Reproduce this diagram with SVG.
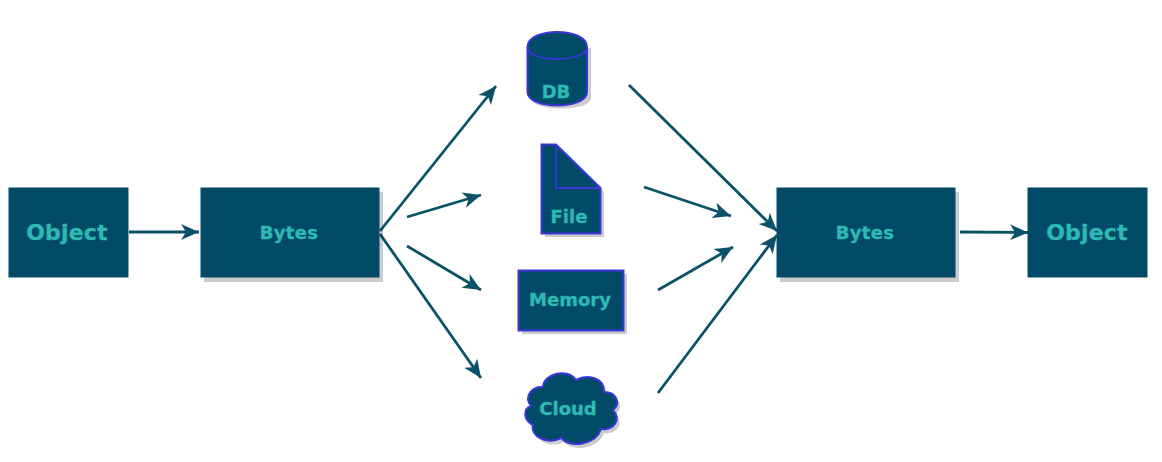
<svg xmlns="http://www.w3.org/2000/svg" width="1162" height="462" viewBox="0 0 1162 462">
<style>
.box{fill:#024b68}
.blue{fill:#024b68;stroke:#3a36d8;stroke-width:2}
.in{fill:none;stroke:#3a36d8;stroke-width:1.8}
.sh{fill:#000;opacity:.2}
text{font-family:"DejaVu Sans",sans-serif;font-weight:700;fill:#2dbab2;text-anchor:middle;stroke:#2dbab2;stroke-width:.3}
.c{fill:none;stroke:#0b5269;stroke-width:2.8;marker-end:url(#a)}
</style>
<defs>
<marker id="a" markerUnits="userSpaceOnUse" markerWidth="20" markerHeight="20" refX="18" refY="10" orient="auto"><path d="M0 2L18 10L0 18L5 10Z" fill="#0b5269"/></marker>
<path id="cloud" d="M543 387C544 373 568 368 576 380C589 373 605 379 604 392C617 392 621 404 613 410C622 420 613 431 601 429C596 444 572 449 561 438C547 445 530 436 533 425C523 420 523 409 531 406C523 396 533 386 543 387Z"/>
</defs>
<rect width="1162" height="462" fill="#fff"/>
<g id="connectors">
<path class="c" d="M129 232H199"/>
<path class="c" d="M380 231L496 86"/>
<path class="c" d="M407 217L481 195"/>
<path class="c" d="M407 246L481 290"/>
<path class="c" d="M380 234L481 378"/>
<path class="c" d="M629 85L777 231"/>
<path class="c" d="M644 187L731 216"/>
<path class="c" d="M658 290L733 247"/>
<path class="c" d="M658 393L777 235"/>
<path class="c" d="M960 232L1028 232.500"/>
</g>
<g id="object-left"><rect class="box" x="8.500" y="187.500" width="120" height="90"/><text x="67" y="240" font-size="22" letter-spacing=".2">Object</text></g>
<g id="bytes-left"><rect class="sh" x="204" y="192" width="179" height="90"/><rect class="box" x="200.500" y="187.500" width="179" height="90"/><text x="289" y="238.500" font-size="18" letter-spacing=".3">Bytes</text></g>
<g id="db"><path class="sh" d="M531 48V98C531 112 591 112 591 98V48Z"/><path class="blue" d="M527.500 47C527.500 27 587 27 587 47V92C587 110 527.500 110 527.500 92Z"/><path class="in" d="M527.500 47C527.500 63 587 63 587 47"/><text x="556" y="98" font-size="18">DB</text></g>
<g id="file"><path class="sh" d="M545 148H560L604 192V237H545Z"/><path class="blue" d="M541.500 144.500H556L600.500 188V233.500H541.500Z"/><path class="in" d="M556 144.500V188H600.500"/><text x="569" y="223" font-size="18">File</text></g>
<g id="memory"><rect class="sh" x="522" y="274" width="105" height="60"/><rect class="blue" x="518.500" y="270.500" width="105" height="60"/><text x="570" y="306" font-size="18">Memory</text></g>
<g id="cloud-node"><use href="#cloud" class="sh" x="3" y="4"/><use href="#cloud" class="blue"/><text x="568" y="415" font-size="18">Cloud</text></g>
<g id="bytes-right"><rect class="sh" x="780" y="192" width="179" height="90"/><rect class="box" x="776.500" y="187.500" width="179" height="90"/><text x="865" y="238.500" font-size="18" letter-spacing=".3">Bytes</text></g>
<g id="object-right"><rect class="box" x="1027.500" y="187.500" width="120" height="90"/><text x="1087" y="240" font-size="22" letter-spacing=".2">Object</text></g>
</svg>
